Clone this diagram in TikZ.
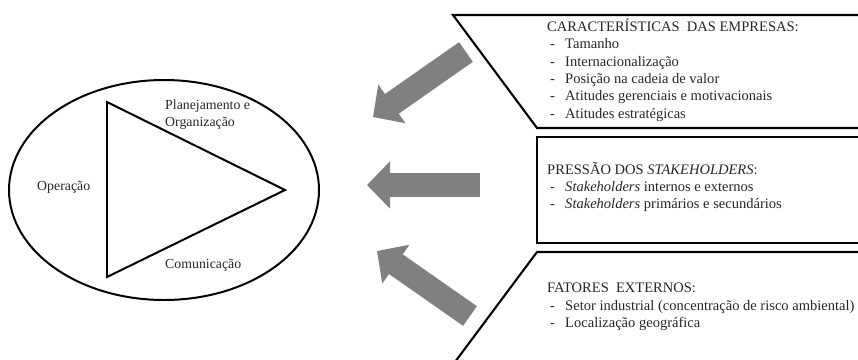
\documentclass[tikz,border=0pt]{standalone}
\usepackage{fontspec}
\setmainfont{Liberation Serif}
\usetikzlibrary{arrows.meta}
\newcommand{\traco}{\makebox[0.54cm][l]{\hspace{0.09cm}-}}

\begin{document}
\begin{tikzpicture}[x=0.03cm, y=-0.03cm, font=\fontsize{12.4}{14.8}\selectfont,
          lb/.style={text=black!85, inner sep=0pt, anchor=west},
          lst/.style={lb, align=left},
          cic/.style={lb, font=\fontsize{11.8}{14.2}\selectfont},
          cx/.style={draw=black, line width=1.8pt, line join=miter},
          blk/.style={gray, line width=0.72cm, -{Triangle[length=0.69cm, width=1.38cm]}}]
        \useasboundingbox (0,0) rectangle (858,360);
        % ciclo de gestao: elipse com triangulo
        \draw[cx, line width=1.7pt] (164,190) ellipse [x radius=155, y radius=110];
        \draw[cx, line width=1.7pt] (107,102) -- (285,190) -- (107,277) -- cycle;
        \node[cic, align=left] (plan) at (165,115) {Planejamento e\\Organização};
        \node[cic] (oper) at (37,187) {Operação};
        \node[cic] (comu) at (165,265) {Comunicação};
        % caixas abertas para a margem direita
        \draw[cx] (862,15) -- (453,15) -- (537,128) -- (862,128);
        \draw[cx] (862,137) -- (537,137) -- (537,243) -- (862,243);
        \draw[cx] (862,252) -- (537,252) -- (452,366);
        \node[lst] (empr) at (547,70) {CARACTERÍSTICAS~\ DAS EMPRESAS:\\
          \traco Tamanho\\ \traco Internacionalização\\ \traco Posição na cadeia de valor\\
          \traco Atitudes gerenciais e motivacionais\\ \traco Atitudes estratégicas};
        \node[lst] (stak) at (547,187) {PRESSÃO DOS \textit{STAKEHOLDERS}:\\
          \traco \textit{Stakeholders} internos e externos\\
          \traco \textit{Stakeholders} primários e secundários};
        \node[lst] (fext) at (547,307) {FATORES~\ EXTERNOS:\\
          \traco Setor industrial (concentração de risco ambiental)\\
          \traco Localização geográfica};
        % setas largas em direcao ao ciclo
        \coordinate (c1) at (466,52);  \coordinate (p1) at (373,117);
        \coordinate (c2) at (480,185); \coordinate (p2) at (367,185);
        \coordinate (c3) at (470,316); \coordinate (p3) at (377,251);
        \draw[blk] (c1) -- (p1);
        \draw[blk] (c2) -- (p2);
        \draw[blk] (c3) -- (p3);
      \end{tikzpicture}
\end{document}
